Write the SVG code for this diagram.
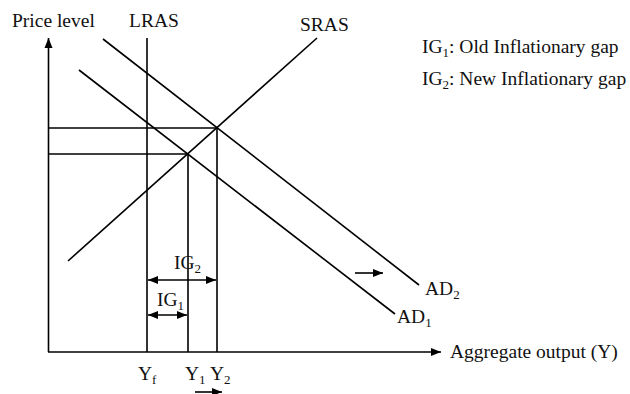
<svg xmlns="http://www.w3.org/2000/svg" width="630" height="394" viewBox="0 0 630 394">
<style>
.l{stroke:#000;stroke-width:1.6;fill:none}
.t{font-family:"Liberation Serif","Times New Roman",serif;font-size:19.5px;fill:#111}
.s{font-size:13px}
</style>
<defs>
<marker id="ah" viewBox="0 0 10 10" refX="10" refY="5" markerWidth="10" markerHeight="10" markerUnits="userSpaceOnUse" orient="auto-start-reverse"><path d="M0,1 L10,5 L0,9 z" fill="#000"/></marker>
</defs>
<rect width="630" height="394" fill="#fff"/>
<g id="connectors">
<line id="yaxis" class="l" x1="48.5" y1="352" x2="48.5" y2="38" marker-end="url(#ah)"/>
<line id="xaxis" class="l" x1="48" y1="352" x2="441" y2="352" marker-end="url(#ah)"/>
<line id="lras" class="l" x1="147" y1="38" x2="147" y2="352"/>
<line id="sras" class="l" x1="68" y1="261" x2="317" y2="38"/>
<line id="ad2" class="l" x1="103" y1="39" x2="419" y2="285"/>
<line id="ad1" class="l" x1="79" y1="70" x2="395" y2="314"/>
<line class="l" x1="48" y1="128" x2="217" y2="128"/>
<line class="l" x1="48" y1="154" x2="188" y2="154"/>
<line class="l" x1="217" y1="128" x2="217" y2="352"/>
<line class="l" x1="188" y1="154" x2="188" y2="352"/>
<line id="ig2arrow" class="l" x1="148" y1="280" x2="216" y2="280" marker-start="url(#ah)" marker-end="url(#ah)"/>
<line id="ig1arrow" class="l" x1="148" y1="315" x2="187" y2="315" marker-start="url(#ah)" marker-end="url(#ah)"/>
<line id="shift" class="l" x1="355" y1="273" x2="383" y2="273" marker-end="url(#ah)"/>
<line id="shift2" class="l" x1="195" y1="392" x2="222" y2="392" marker-end="url(#ah)"/>
</g>
<g id="labels">
<text class="t" x="12" y="27">Price level</text>
<text class="t" x="129" y="27">LRAS</text>
<text class="t" x="300" y="31">SRAS</text>
<text class="t" x="422" y="53">IG<tspan class="s" dy="4">1</tspan><tspan dy="-4">: Old Inflationary gap</tspan></text>
<text class="t" x="422" y="85">IG<tspan class="s" dy="4">2</tspan><tspan dy="-4">: New Inflationary gap</tspan></text>
<text class="t" x="174" y="269">IG<tspan class="s" dy="4">2</tspan></text>
<text class="t" x="157" y="306">IG<tspan class="s" dy="4">1</tspan></text>
<text class="t" x="425" y="295">AD<tspan class="s" dy="4">2</tspan></text>
<text class="t" x="397" y="323">AD<tspan class="s" dy="4">1</tspan></text>
<text class="t" x="450" y="358">Aggregate output (Y)</text>
<text class="t" x="138" y="380">Y<tspan class="s" dy="4">f</tspan></text>
<text class="t" x="185" y="380">Y<tspan class="s" dy="4">1</tspan></text>
<text class="t" x="210" y="380">Y<tspan class="s" dy="4">2</tspan></text>
</g>
</svg>
